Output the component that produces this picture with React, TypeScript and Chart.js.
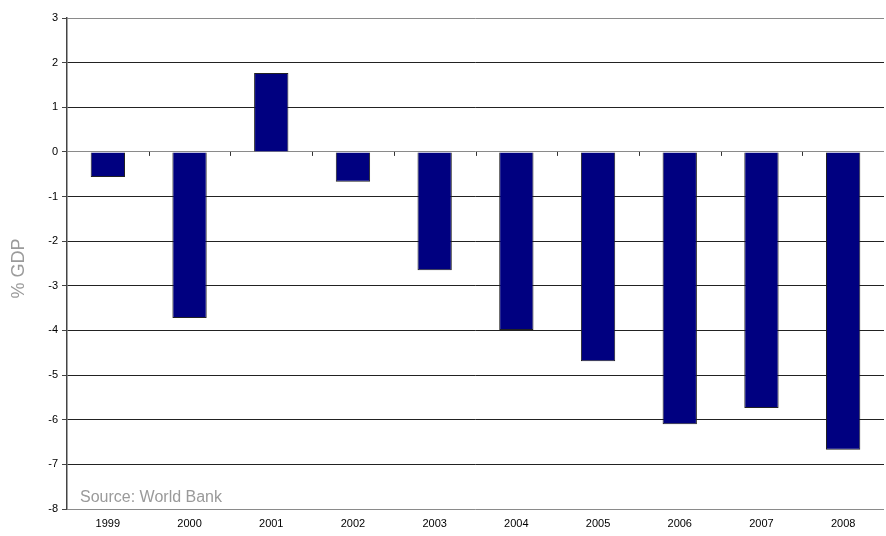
import React, { useEffect, useRef } from "react";
import { Chart, registerables } from "chart.js";

Chart.register(...registerables);

const years = ["1999", "2000", "2001", "2002", "2003", "2004", "2005", "2006", "2007", "2008"];
const balance = [-0.56, -3.72, 1.77, -0.67, -2.65, -3.99, -4.69, -6.1, -5.74, -6.67];
const yMin = -8;
const yMax = 3;
const yTitle = "% GDP";
const sourceNote = "Source: World Bank";

const overlay = {
  id: "overlay",
  beforeDatasetsDraw(chart: any) {
    const { ctx, chartArea, scales } = chart;
    const y0 = scales.y.getPixelForValue(0);
    const n = years.length;
    const w = (chartArea.right - chartArea.left) / n;
    ctx.save();
    ctx.strokeStyle = "#333";
    ctx.lineWidth = 1;
    for (let i = 1; i < n; i++) {
      const x = Math.round(chartArea.left + i * w) + 0.5;
      ctx.beginPath();
      ctx.moveTo(x, y0);
      ctx.lineTo(x, y0 + 4);
      ctx.stroke();
    }
    ctx.restore();
  },
  afterDraw(chart: any) {
    const { ctx, chartArea } = chart;
    ctx.save();
    ctx.fillStyle = "#9a9a9a";
    ctx.font = "16px 'Liberation Sans', Arial, sans-serif";
    ctx.textBaseline = "alphabetic";
    ctx.textAlign = "left";
    ctx.fillText(sourceNote, 80, 502);
    ctx.translate(19, (chartArea.top + chartArea.bottom) / 2 + 5);
    ctx.rotate(-Math.PI / 2);
    ctx.textAlign = "center";
    ctx.textBaseline = "middle";
    ctx.font = "18px 'Liberation Sans', Arial, sans-serif";
    ctx.fillText(yTitle, 0, 0);
    ctx.restore();
  },
};

export default function App() {
  const ref = useRef<HTMLCanvasElement | null>(null);
  useEffect(() => {
    document.body.style.margin = "0";
    const chart = new Chart(ref.current as HTMLCanvasElement, {
      type: "bar",
      data: {
        labels: years,
        datasets: [
          {
            data: balance,
            backgroundColor: "#000080",
            borderColor: "#222",
            borderWidth: 1,
            barPercentage: 0.42,
            categoryPercentage: 1,
          },
        ],
      },
      options: {
        animation: false,
        responsive: false,
        layout: { padding: { top: 18, right: 2, left: 0, bottom: 0 } },
        plugins: { legend: { display: false }, tooltip: { enabled: false } },
        scales: {
          x: {
            offset: true,
            grid: { display: false, drawTicks: false },
            border: { display: false },
            ticks: {
              color: "#000",
              padding: 8,
              font: { family: "'Liberation Sans', Arial, sans-serif", size: 11 },
              maxRotation: 0,
            },
            afterFit(scale: any) {
              scale.height = 27;
            },
          },
          y: {
            min: yMin,
            max: yMax,
            ticks: {
              stepSize: 1,
              color: "#000",
              padding: 4,
              font: { family: "'Liberation Sans', Arial, sans-serif", size: 11 },
            },
            grid: {
              color: (c: any) => {
                const v = c.tick ? c.tick.value : 0;
                return v === yMax || v === yMin || v === 0 ? "#8a8a8a" : "#222";
              },
              tickColor: "#444",
              tickLength: 5,
              drawTicks: true,
              lineWidth: 1,
            },
            border: { display: true, color: "#444", width: 1.5 },
            afterFit(scale: any) {
              scale.width = 67;
            },
          },
        },
      },
      plugins: [overlay],
    });
    return () => chart.destroy();
  }, []);
  return (
    <div style={{ width: 886, height: 536 }}>
      <canvas ref={ref} width={886} height={536} style={{ display: "block" }} />
    </div>
  );
}
